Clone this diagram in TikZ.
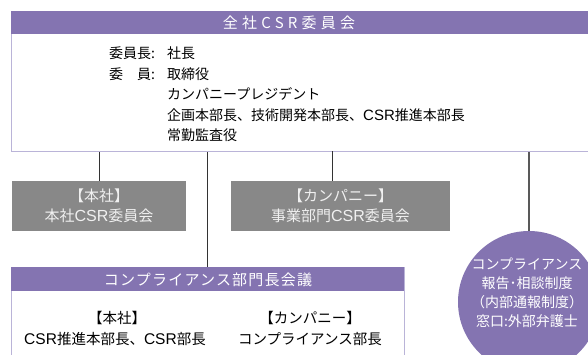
\documentclass[tikz,border=0pt]{standalone}
\usepackage{fontspec}
\setmainfont{Noto Sans CJK JP}
\newfontfamily\hdfont[LetterSpace=28]{Noto Sans CJK JP}
\newfontfamily\hdfontb[LetterSpace=8]{Noto Sans CJK JP}
\newfontfamily\latfont[Scale=1.07]{Liberation Sans}
\newcommand\csrtxt{{\latfont CSR}}
\definecolor{hdpurple}{HTML}{8474B1}
\definecolor{bordlav}{HTML}{BAB4D8}
\definecolor{boxgray}{HTML}{888888}
\definecolor{linegray}{HTML}{333333}
\tikzset{
  hdr/.style={fill=hdpurple, inner sep=0pt, anchor=north west},
  bodybox/.style={draw=bordlav, line width=1.2pt, fill=white, inner sep=0pt, anchor=north west},
  graybox/.style={fill=boxgray, text=white!94!black, inner sep=0pt, align=center,
    font=\fontsize{15pt}{20pt}\selectfont},
  txt/.style={inner sep=0pt, font=\fontsize{14pt}{20pt}\selectfont, text=black},
  ctxt/.style={inner sep=0pt, font=\fontsize{14.5pt}{20pt}\selectfont, text=black},
  wtxt/.style={inner sep=0pt, text=white},
  conn/.style={draw=linegray, line width=0.8pt},
  circ/.style={circle, fill=hdpurple, inner sep=0pt, minimum size=142pt}
}
\begin{document}
\begin{tikzpicture}[x=1pt,y=-1pt]
\useasboundingbox (0,0) rectangle (588,354);
\clip (0,0) rectangle (588,354);
\fill[white] (0,0) rectangle (588,354);

% top committee
\node[bodybox, minimum width=585pt, minimum height=140pt] (topbody) at (11,11) {};
\node[hdr, minimum width=585pt, minimum height=23pt] (tophdr) at (11,11) {};
\node[wtxt, font=\hdfont\fontsize{15pt}{18pt}\selectfont] (toptitle) at (289,22.5) {全社CSR委員会};

\node[txt, anchor=base west] (l1a) at (109,58) {委員長:};
\node[txt, anchor=base west] (l1b) at (167,58) {社長};
\node[txt, anchor=base west] (l2a) at (109,79) {委　員:};
\node[txt, anchor=base west] (l2b) at (167,79) {取締役};
\node[txt, anchor=base west] (l3b) at (167,99) {カンパニープレジデント};
\node[txt, anchor=base west] (l4b) at (167,120) {企画本部長、技術開発本部長、\csrtxt 推進本部長};
\node[txt, anchor=base west] (l5b) at (167,140) {常勤監査役};

% gray boxes
\node[graybox, minimum width=174pt, minimum height=50pt] (hq) at (99,206) {【本社】\\本社\csrtxt 委員会};
\node[graybox, minimum width=219pt, minimum height=50pt] (co) at (340.5,206) {【カンパニー】\\事業部門\csrtxt 委員会};

% compliance meeting
\node[bodybox, minimum width=393pt, minimum height=100pt] (compbody) at (11,267) {};
\node[hdr, minimum width=393pt, minimum height=24pt] (comp) at (11,267) {};
\node[wtxt, font=\hdfontb\fontsize{15pt}{18pt}\selectfont] (comptitle) at (208,279.5) {コンプライアンス部門長会議};
\node[ctxt, anchor=base] (c1a) at (117,323.5) {【本社】};
\node[ctxt, anchor=base] (c1b) at (115,344.5) {\csrtxt 推進本部長、\csrtxt 部長};
\node[ctxt, anchor=base] (c2a) at (310,323.5) {【カンパニー】};
\node[ctxt, anchor=base] (c2b) at (310,344.5) {コンプライアンス部長};

% circle
\node[circ] (hot) at (529,302) {};
\node[wtxt, align=center, font=\fontsize{14pt}{19pt}\selectfont] (hottxt) at (527,293) {コンプライアンス\\報告･相談制度\\（内部通報制度）\\窓口:外部弁護士};

% connectors
\coordinate (c3) at (332,151);
\draw[conn] (hq.north |- topbody.south) -- (hq.north);
\draw[conn] (comp.north |- topbody.south) -- (comp.north);
\draw[conn] (c3) -- (c3 |- co.north);
\draw[conn, line width=1.3pt, draw=black!65] (hot.north |- topbody.south) -- (hot.north);
\end{tikzpicture}
\end{document}
